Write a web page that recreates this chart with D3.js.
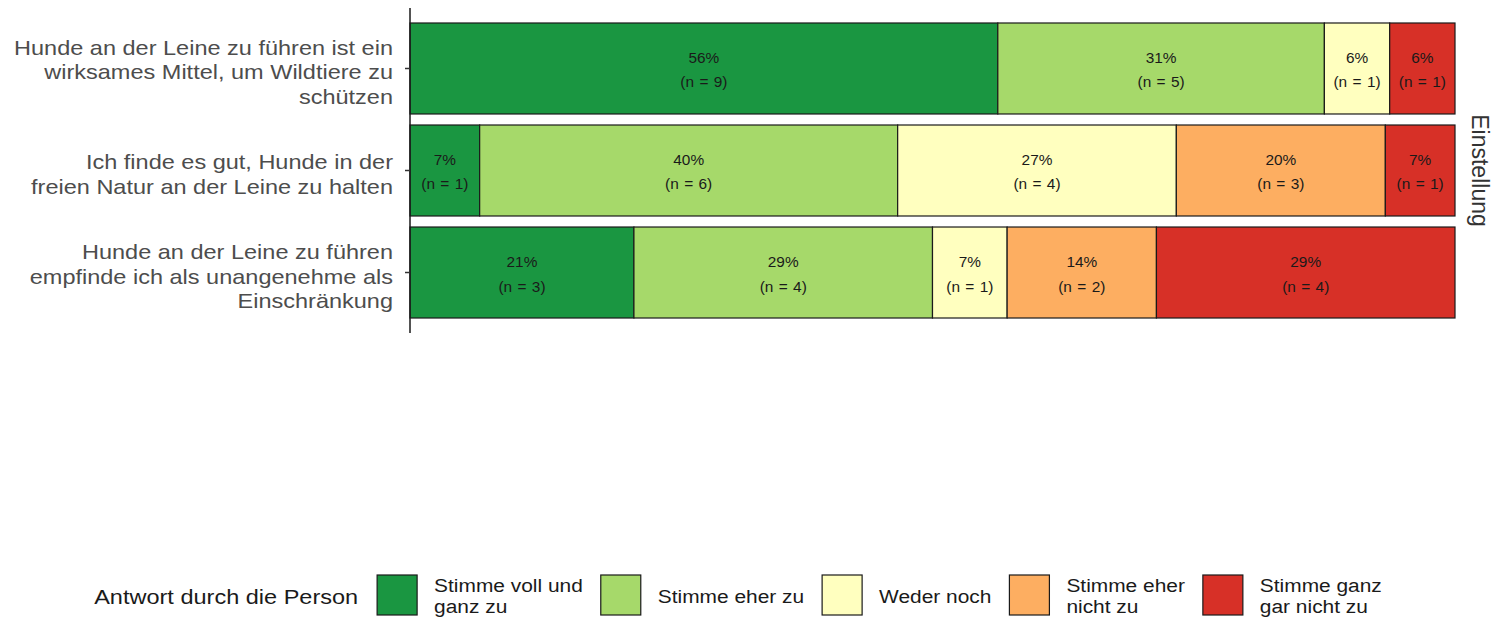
<!DOCTYPE html>
<html>
<head>
<meta charset="utf-8">
<script src="https://cdn.jsdelivr.net/npm/d3@7"></script>
<style>
  body { margin: 0; background: #fff; }
  text { font-family: "Liberation Sans", Arial, sans-serif; }
</style>
</head>
<body>
<div id="viz"></div>
<script>
// data
var statements = [
  ["Hunde an der Leine zu führen ist ein", "wirksames Mittel, um Wildtiere zu", "schützen"],
  ["Ich finde es gut, Hunde in der", "freien Natur an der Leine zu halten"],
  ["Hunde an der Leine zu führen", "empfinde ich als unangenehme als", "Einschränkung"]
];
var answers = ["Stimme voll und ganz zu", "Stimme eher zu", "Weder noch", "Stimme eher nicht zu", "Stimme ganz gar nicht zu"];
var answerLabels = [["Stimme voll und", "ganz zu"], ["Stimme eher zu"], ["Weder noch"], ["Stimme eher", "nicht zu"], ["Stimme ganz", "gar nicht zu"]];
var counts = [
  [9, 5, 1, 0, 1],
  [1, 6, 4, 3, 1],
  [3, 4, 1, 2, 4]
];
var colours = ["#1a9641", "#a6d96a", "#ffffbf", "#fdae61", "#d73027"];
var facetLabel = "Einstellung";
var legendTitle = "Antwort durch die Person";

var width = 1495, height = 619;
var margin = {top: 8, right: 40, bottom: 286, left: 410};
var stretch = 1.12; // text in the original is a little wide

var svg = d3.select("#viz")
  .append("svg")
  .attr("width", width)
  .attr("height", height);

// build rows of shares
var rows = counts.map(function(c, i) {
  var total = d3.sum(c);
  var row = {key: i, total: total};
  answers.forEach(function(a, j) { row[a] = c[j] / total; row["n_" + j] = c[j]; });
  return row;
});
var series = d3.stack().keys(answers)(rows);

var x = d3.scaleLinear().domain([0, 1]).range([margin.left, width - margin.right]);
var y = d3.scaleBand()
  .domain(d3.range(statements.length))
  .range([margin.top, height - margin.bottom])
  .paddingInner(0.108)
  .paddingOuter(0.147);

var colour = d3.scaleOrdinal().domain(answers).range(colours);

// bars
var layers = svg.selectAll("g.layer")
  .data(series)
  .enter()
  .append("g")
  .attr("class", "layer")
  .attr("fill", function(d) { return colour(d.key); });

layers.selectAll("rect")
  .data(function(d) { return d.filter(function(s) { return s[1] - s[0] > 0; }); })
  .enter()
  .append("rect")
  .attr("x", function(d) { return x(d[0]); })
  .attr("y", function(d) { return y(d.data.key); })
  .attr("width", function(d) { return x(d[1]) - x(d[0]); })
  .attr("height", y.bandwidth())
  .attr("stroke", "#1a1a1a")
  .attr("stroke-width", 1.2);

// bar labels
series.forEach(function(s, j) {
  s.forEach(function(d) {
    var n = d.data["n_" + j];
    if (n == 0) return;
    var cx = (x(d[0]) + x(d[1])) / 2;
    var cy = y(d.data.key) + y.bandwidth() / 2;
    var t = svg.append("text")
      .attr("transform", "translate(" + cx + ",0) scale(1.1,1)")
      .attr("text-anchor", "middle")
      .attr("font-size", "14px")
      .attr("fill", "#1a1a1a");
    t.append("tspan").attr("x", 0).attr("y", cy - 5)
      .text(Math.round(n / d.data.total * 100) + "%");
    t.append("tspan").attr("x", 0).attr("y", cy + 19)
      .style("word-spacing", "1px")
      .text("(n = " + n + ")");
  });
});

// y axis
var yAxis = svg.append("g");
yAxis.append("line")
  .attr("x1", margin.left).attr("x2", margin.left)
  .attr("y1", y.range()[0]).attr("y2", y.range()[1])
  .attr("stroke", "#1a1a1a")
  .attr("stroke-width", 1.5);

statements.forEach(function(lines, i) {
  var cy = y(i) + y.bandwidth() / 2;
  yAxis.append("line")
    .attr("x1", margin.left - 5).attr("x2", margin.left)
    .attr("y1", cy).attr("y2", cy)
    .attr("stroke", "#333")
    .attr("stroke-width", 1.5);
  var t = yAxis.append("text")
    .attr("transform", "translate(" + (margin.left - 17) + ",0) scale(" + stretch + ",1)")
    .attr("text-anchor", "end")
    .attr("font-size", "21px")
    .attr("fill", "#4d4d4d");
  lines.forEach(function(l, k) {
    t.append("tspan")
      .attr("x", 0)
      .attr("y", cy + 11 + (k - (lines.length - 1) / 2) * 24.5)
      .text(l);
  });
});

// facet strip label
var stripX = width - margin.right + 25;
var stripY = (y.range()[0] + y.range()[1]) / 2;
svg.append("text")
  .attr("transform", "translate(" + stripX + "," + stripY + ") rotate(90)")
  .attr("text-anchor", "middle")
  .attr("dominant-baseline", "central")
  .attr("font-size", "23px")
  .attr("fill", "#333")
  .text(facetLabel);

// legend
var legend = svg.append("g");
var legendY = 595;
var title = legend.append("text")
  .attr("transform", "scale(" + stretch + ",1)")
  .attr("x", 0)
  .attr("y", legendY + 9)
  .attr("font-size", "21px")
  .attr("fill", "#1a1a1a")
  .text(legendTitle);
var pos = title.node().getComputedTextLength() * stretch + 19;
answers.forEach(function(a, j) {
  legend.append("rect")
    .attr("x", pos).attr("y", legendY - 20)
    .attr("width", 40).attr("height", 40)
    .attr("fill", colour(a))
    .attr("stroke", "#1a1a1a")
    .attr("stroke-width", 1.2);
  var lines = answerLabels[j];
  var t = legend.append("text")
    .attr("transform", "translate(" + (pos + 57) + ",0) scale(1.1,1)")
    .attr("font-size", "19px")
    .attr("fill", "#1a1a1a");
  var maxW = 0;
  lines.forEach(function(l, k) {
    var ts = t.append("tspan")
      .attr("x", 0)
      .attr("y", legendY + 8 + (k - (lines.length - 1) / 2) * 21)
      .text(l);
    maxW = Math.max(maxW, ts.node().getComputedTextLength() * 1.1);
  });
  pos += 57 + maxW + 18;
});
var legendW = pos - 18;
legend.attr("transform", "translate(" + (738 - legendW / 2) + ",0)");
</script>
</body>
</html>
